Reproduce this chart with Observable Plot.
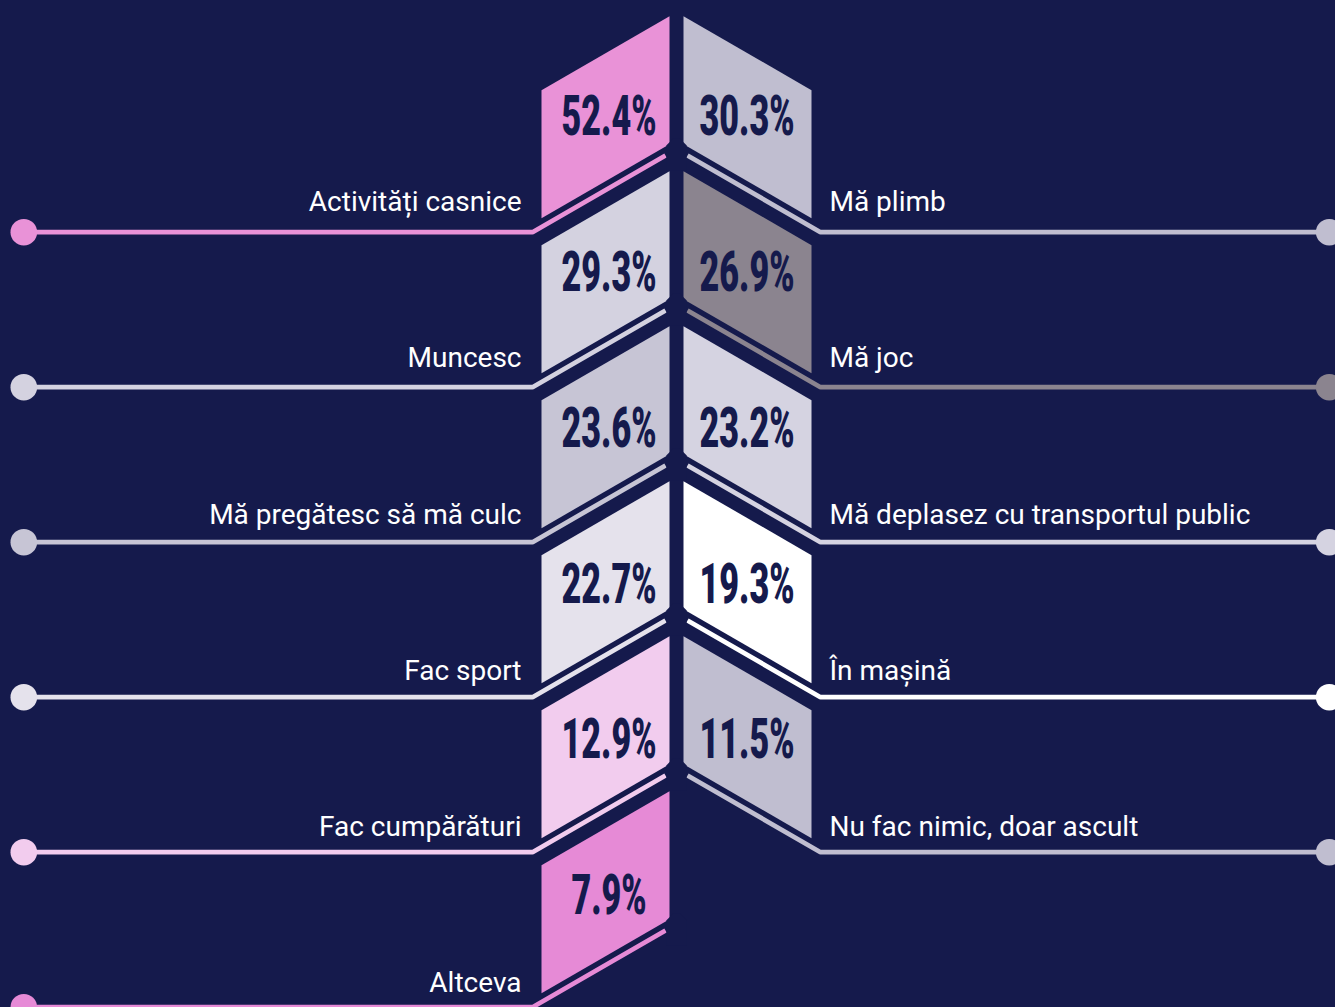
<!DOCTYPE html>
<html>
<head>
<meta charset="utf-8">
<script src="https://cdn.jsdelivr.net/npm/d3@7"></script>
<script src="https://cdn.jsdelivr.net/npm/@observablehq/plot@0.6"></script>
<style>
  html, body { margin: 0; padding: 0; background: #151a4c; }
  #chart svg { display: block; }
</style>
</head>
<body>
<div id="chart"></div>
<script>
// ---- Data ----
const leftCategories = ["Activități casnice", "Muncesc", "Mă pregătesc să mă culc", "Fac sport", "Fac cumpărături", "Altceva"];
const leftValues = [52.4, 29.3, 23.6, 22.7, 12.9, 7.9];
const leftColors = ["#e992d7", "#d4d2e0", "#c7c5d5", "#e5e2ec", "#f2ccee", "#e68ad6"];

const rightCategories = ["Mă plimb", "Mă joc", "Mă deplasez cu transportul public", "În mașină", "Nu fac nimic, doar ascult"];
const rightValues = [30.3, 26.9, 23.2, 19.3, 11.5];
const rightColors = ["#c0bed0", "#8b848f", "#d5d3e1", "#ffffff", "#c0bed0"];

// ---- Layout (px per row, relative geometry) ----
const W = 1335, H = 1007;
const BG = "#151a4c";
const ROW = 155;          // vertical distance between rows (px)
const Y0 = 231.7;         // pixel position of first row line
const CX = 676;           // spine centre
const T30 = Math.tan(Math.PI / 6);
const r = px => px / ROW; // px offset -> row units
const LABEL_PITCH = 156.2 / ROW;
const PCT_PITCH = 155.9 / ROW;

const leftItems = leftCategories.map((c, i) => ({side: -1, row: i, category: c, value: leftValues[i], color: leftColors[i]}));
const rightItems = rightCategories.map((c, i) => ({side: 1, row: i, category: c, value: rightValues[i], color: rightColors[i]}));
const items = [...leftItems, ...rightItems];

// parallelogram segments
const polys = [];
items.forEach((d, k) => {
  const s = d.side, i = d.row;
  [[s * 7, i - r(216)], [s * 135, i - r(142)], [s * 135, i - r(14)], [s * 7, i - r(88)]]
    .forEach(([x, y]) => polys.push({x, y, id: "p" + k, fill: d.color}));
});

// connector lines (horizontal + slanted stripe)
const stripes = [];
items.forEach((d, k) => {
  const s = d.side, i = d.row;
  [[s * 652.7, i], [s * 144, i], [s * 11, i - r(133 * T30)]]
    .forEach(([x, y]) => stripes.push({x, y, id: "s" + k, stroke: d.color}));
});

// dark joints on the spine
const nodes = [];
leftCategories.forEach((c, i) => {
  [[-3, i - r(94)], [3, i - r(94)], [10, i - r(87)], [10, i - r(62)], [-10, i - r(62)], [-10, i - r(87)]]
    .forEach(([x, y]) => nodes.push({x, y, id: "n" + i}));
});

const labelFont = "Roboto, 'Noto Sans', sans-serif";
const pctText = (data, xPos) => Plot.text(data, {
  x: () => xPos,
  y: d => d.row * PCT_PITCH - r(115),
  text: d => d.value.toFixed(1) + "%",
  fill: BG,
  fontSize: 55,
  fontWeight: 900,
  fontFamily: labelFont
});

const chart = Plot.plot({
  width: W,
  height: H,
  margin: 0,
  style: {background: BG, overflow: "visible"},
  x: {domain: [-CX, W - CX], range: [0, W], axis: null},
  y: {domain: [-Y0 / ROW, (H - Y0) / ROW], range: [0, H], axis: null},
  color: {type: "identity"},
  marks: [
    Plot.line(polys, {x: "x", y: "y", z: "id", fill: "fill", stroke: "none"}),
    Plot.line(stripes, {x: "x", y: "y", z: "id", stroke: "stroke", strokeWidth: 4.7, strokeLinejoin: "miter", strokeLinecap: "butt"}),
    Plot.line(nodes, {x: "x", y: "y", z: "id", fill: BG, stroke: "none"}),
    Plot.dot(items, {x: d => d.side * 652.7, y: "row", r: 13.3, fill: "color", stroke: "none"}),
    Plot.text(leftItems, {
      x: () => -155, y: d => d.row * LABEL_PITCH - r(30), text: "category",
      textAnchor: "end", fill: "#ffffff", fontSize: 28, fontFamily: labelFont
    }),
    Plot.text(rightItems, {
      x: () => 153, y: d => d.row * LABEL_PITCH - r(30), text: "category",
      textAnchor: "start", fill: "#ffffff", fontSize: 28, fontFamily: labelFont
    }),
    pctText(leftItems, -67.5),
    pctText(rightItems, 70.5)
  ]
});

// condense the percentage numbers horizontally (last two text groups)
const textGroups = chart.querySelectorAll('g[aria-label="text"]');
[textGroups[textGroups.length - 2], textGroups[textGroups.length - 1]].forEach(g => {
  g.querySelectorAll("text").forEach(el => {
    let t = el.getAttribute("transform");
    if (!t) {
      const x = el.getAttribute("x") || 0, y = el.getAttribute("y") || 0;
      el.removeAttribute("x"); el.removeAttribute("y");
      t = `translate(${x},${y})`;
    }
    el.setAttribute("transform", t + " scale(0.62,1)");
  });
});

document.getElementById("chart").appendChild(chart);
</script>
</body>
</html>
